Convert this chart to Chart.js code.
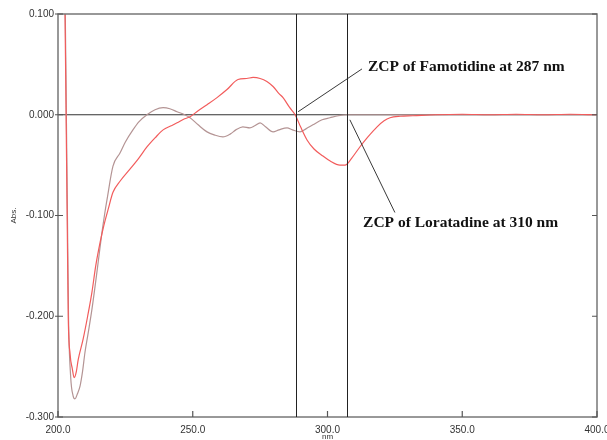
<!DOCTYPE html>
<html>
<head>
<meta charset="utf-8">
<script src="https://cdn.jsdelivr.net/npm/chart.js@4.4.1/dist/chart.umd.min.js"></script>
<style>
  html, body { margin: 0; padding: 0; background: #fff; }
</style>
</head>
<body>
<canvas id="spectra" width="607" height="440"></canvas>
<script>
// Famotidine / loratadine derivative spectra
const redWl = [202.0, 202.6, 203.0, 203.4, 203.8, 204.5, 205.3, 206.0, 206.8, 207.5, 209.3, 211, 212.6, 214, 215.6, 217,
  218.6, 220.4, 223, 226.7, 230, 233, 236, 239, 242, 244.2, 247, 249, 252, 255.3, 259, 262.7, 266.8, 270, 272.4, 275,
  277.5, 279.8, 282, 283.5, 286, 288, 290, 292.4, 295, 298.3, 301, 304.6, 306.5, 309, 312, 315, 318.4, 321, 323.2,
  327, 331.7, 340, 350, 360, 370, 380, 390, 400];
const redAbs = [0.16, 0.10, 0.0, -0.1, -0.2, -0.238, -0.252, -0.261, -0.255, -0.243, -0.223, -0.2, -0.176, -0.15, -0.127, -0.11,
  -0.094, -0.077, -0.066, -0.054, -0.043, -0.032, -0.023, -0.015, -0.011, -0.008, -0.004, -0.002, 0.004, 0.010, 0.017, 0.025, 0.035, 0.036, 0.037, 0.036,
  0.033, 0.028, 0.021, 0.017, 0.007, 0.0, -0.012, -0.025, -0.034, -0.041, -0.046, -0.050, -0.050, -0.043, -0.032, -0.022, -0.012, -0.006, -0.003,
  -0.0015, -0.001, 0.0, 0.0005, 0.0, 0.0005, 0.0, 0.0005, 0.0];

const brownWl = [202.0, 202.7, 203.1, 203.5, 203.9, 204.7, 205.6, 206.3, 207.2, 208.2, 209.1, 210, 211.3, 212.6, 214.5, 216.3,
  217.4, 218.2, 220.4, 223, 225, 227.8, 230, 233, 236, 239, 241.5, 244.2, 247, 249, 252, 255.3, 258, 261.2, 264, 266, 268.6,
  271.2, 273, 275, 277, 279.8, 282, 285, 287, 289.8, 292, 294.6, 298, 300.9, 304, 307, 320, 340, 360, 380, 400];
const brownAbs = [0.16, 0.10, 0.0, -0.1, -0.2, -0.26, -0.279, -0.282, -0.277, -0.269, -0.255, -0.236, -0.215, -0.193, -0.155, -0.117,
  -0.097, -0.084, -0.051, -0.038, -0.027, -0.015, -0.007, 0.0, 0.005, 0.007, 0.006, 0.003, 0.0, -0.003, -0.010, -0.017, -0.020, -0.022, -0.019, -0.015, -0.012,
  -0.013, -0.011, -0.008, -0.012, -0.017, -0.015, -0.013, -0.015, -0.017, -0.014, -0.010, -0.005, -0.003, -0.001, 0.0, 0.0, 0.0, 0.0, 0.0, 0.0];

// zero crossing markers (where they sit on the scan)
const zcpLines = [288.3, 307.2];

// callouts: text anchor and leader line, in data units
const notes = [
  { text: 'ZCP of Famotidine at 287 nm', x: 315.0, y: 0.0475, from: [312.8, 0.0455], to: [289.1, 0.003] },
  { text: 'ZCP of Loratadine at 310 nm', x: 313.2, y: -0.107, from: [325.0, -0.097], to: [308.3, -0.005] }
];

const toPoints = (xs, ys) => xs.map((x, i) => ({ x: x, y: ys[i] }));

const overlay = {
  id: 'overlay',
  beforeDatasetsDraw(chart) {
    const { ctx, chartArea: a, scales: { y } } = chart;
    ctx.save();
    // zero line
    ctx.strokeStyle = '#333';
    ctx.lineWidth = 1.2;
    ctx.beginPath();
    ctx.moveTo(a.left, y.getPixelForValue(0));
    ctx.lineTo(a.right, y.getPixelForValue(0));
    ctx.stroke();
    ctx.restore();
  },
  afterDatasetsDraw(chart) {
    const { ctx, chartArea: a, scales: { x, y } } = chart;
    ctx.save();

    // frame
    ctx.strokeStyle = '#777';
    ctx.lineWidth = 1.5;
    ctx.strokeRect(a.left, a.top, a.right - a.left, a.bottom - a.top);

    // tick marks
    ctx.lineWidth = 1.2;
    ctx.strokeStyle = '#555';
    y.ticks.forEach(t => {
      const py = y.getPixelForValue(t.value);
      ctx.beginPath();
      ctx.moveTo(a.left - 3, py);
      ctx.lineTo(a.left + 5, py);
      ctx.moveTo(a.right - 5, py);
      ctx.lineTo(a.right, py);
      ctx.stroke();
    });
    x.ticks.forEach(t => {
      const px = x.getPixelForValue(t.value);
      ctx.beginPath();
      ctx.moveTo(px, a.bottom);
      ctx.lineTo(px, a.bottom - 6);
      ctx.stroke();
    });

    // vertical ZCP lines
    ctx.strokeStyle = '#222';
    ctx.lineWidth = 1;
    zcpLines.forEach(v => {
      const px = Math.round(x.getPixelForValue(v)) + 0.5;
      ctx.beginPath();
      ctx.moveTo(px, a.top);
      ctx.lineTo(px, a.bottom);
      ctx.stroke();
    });

    // callouts
    ctx.font = 'bold 15.5px "Liberation Serif"';
    ctx.fillStyle = '#111';
    ctx.textBaseline = 'middle';
    notes.forEach(n => {
      ctx.strokeStyle = '#222';
      ctx.lineWidth = 0.9;
      ctx.beginPath();
      ctx.moveTo(x.getPixelForValue(n.from[0]), y.getPixelForValue(n.from[1]));
      ctx.lineTo(x.getPixelForValue(n.to[0]), y.getPixelForValue(n.to[1]));
      ctx.stroke();
      ctx.fillText(n.text, x.getPixelForValue(n.x), y.getPixelForValue(n.y));
    });

    // axis titles
    ctx.font = '8px "Liberation Sans"';
    ctx.fillStyle = '#333';
    ctx.textAlign = 'center';
    ctx.fillText('nm', (a.left + a.right) / 2, 437);
    ctx.translate(14, (a.top + a.bottom) / 2);
    ctx.rotate(-Math.PI / 2);
    ctx.fillText('Abs.', 0, 0);
    ctx.restore();
  }
};

new Chart(document.getElementById('spectra'), {
  type: 'line',
  data: {
    datasets: [
      { label: 'Famotidine', data: toPoints(redWl, redAbs), borderColor: '#f25c5c' },
      { label: 'Loratadine', data: toPoints(brownWl, brownAbs), borderColor: '#b49494' }
    ]
  },
  options: {
    responsive: false,
    animation: false,
    layout: { padding: { top: 14, right: 10, left: 0, bottom: 0 } },
    plugins: { legend: { display: false }, tooltip: { enabled: false } },
    elements: {
      point: { radius: 0 },
      line: { borderWidth: 1.2, cubicInterpolationMode: 'monotone', fill: false }
    },
    scales: {
      x: {
        type: 'linear', min: 200, max: 400,
        grid: { display: false, drawTicks: false },
        border: { display: false },
        ticks: {
          stepSize: 50, autoSkip: false, maxRotation: 0, padding: 7,
          color: '#333', font: { family: 'Liberation Sans', size: 10 },
          callback: v => v.toFixed(1)
        },
        afterFit(scale) { scale.height = 23; scale.paddingLeft = 0; scale.paddingRight = 0; }
      },
      y: {
        type: 'linear', min: -0.3, max: 0.1,
        grid: { display: false, drawTicks: false },
        border: { display: false },
        ticks: {
          stepSize: 0.1, padding: 4,
          color: '#333', font: { family: 'Liberation Sans', size: 10 },
          callback: v => v.toFixed(3)
        },
        afterFit(scale) { scale.width = 58; }
      }
    }
  },
  plugins: [overlay]
});
</script>
</body>
</html>
